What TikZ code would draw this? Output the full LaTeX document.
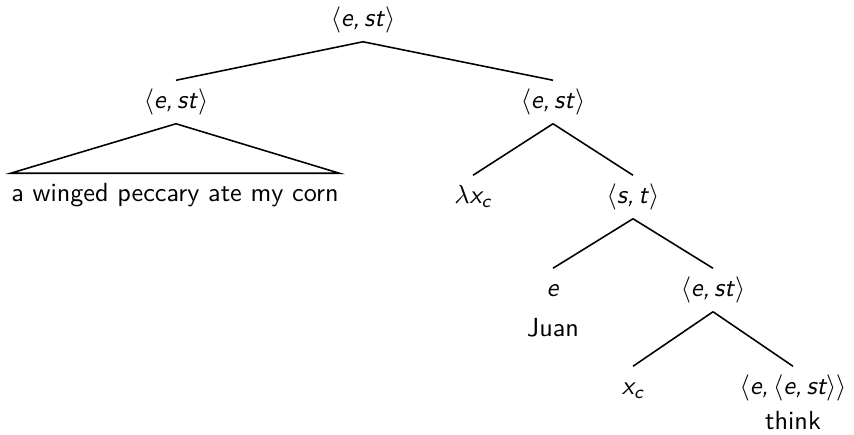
\documentclass[tikz,border=0pt]{standalone}
\usepackage{tikz}
\renewcommand{\familydefault}{\sfdefault}
\newcommand{\ty}[1]{$\langle$\textit{#1}$\rangle$}

\begin{document}
\begin{tikzpicture}[x=0.3817pt, y=-0.3817pt, semithick,
    lbl/.style={text height=7.5pt, text depth=2.5pt, inner ysep=3pt, inner xsep=0pt}]
            \useasboundingbox (0,0) rectangle (854,434);

            \node[lbl] (root) at (363,20) {\ty{e,\,st}};
            \node[lbl] (l) at (176,102) {\ty{e,\,st}};
            \node[lbl] (r) at (553,102) {\ty{e,\,st}};
            \node[lbl] (leaf) at (175,195) {a winged peccary ate my corn};
            \node[lbl] (lam) at (473,197) {$\lambda$\textit{x\textsubscript{c}}};
            \node[lbl] (st) at (633,197) {\ty{s,\,t}};
            \node[lbl] (e) at (553,290) {\textit{e}};
            \node[lbl] (juan) at (553,330) {Juan};
            \node[lbl] (est) at (713,290) {\ty{e,\,st}};
            \node[lbl] (xc) at (633,388) {\textit{x\textsubscript{c}}};
            \node[lbl] (eest) at (793,388) {\ty{e,\,\ty{e,\,st}}};
            \node[lbl] (think) at (793,423) {think};

            \path
            (root.south) edge (l.north)
            (root.south) edge (r.north)
            (r.south) edge (lam.north)
            (r.south) edge (st.north)
            (st.south) edge (e.north)
            (st.south) edge (est.north)
            (est.south) edge (xc.north)
            (est.south) edge (eest.north);

            \draw (l.south) -- (leaf.north west) -- (leaf.north east) -- cycle;
        \end{tikzpicture}
\end{document}
